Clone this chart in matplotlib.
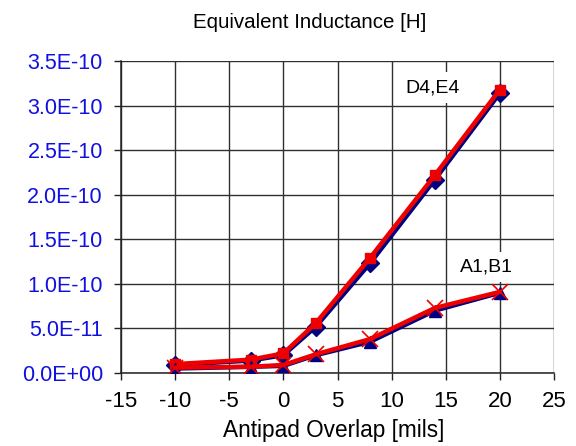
import matplotlib
matplotlib.use("Agg")
import matplotlib.pyplot as plt
from matplotlib.ticker import FixedLocator, FuncFormatter

plt.rcParams['font.family'] = ['Liberation Sans', 'DejaVu Sans']

x = [-10, -3, 0, 3, 8, 14, 20]
d4 = [9.0e-12, 1.4e-11, 2.0e-11, 5.2e-11, 1.23e-10, 2.17e-10, 3.14e-10]
e4 = [1.0e-11, 1.5e-11, 2.2e-11, 5.6e-11, 1.29e-10, 2.22e-10, 3.18e-10]
a1 = [5.0e-12, 7.0e-12, 8.0e-12, 2.0e-11, 3.5e-11, 7.0e-11, 9.0e-11]
b1 = [6.0e-12, 7.0e-12, 9.0e-12, 2.1e-11, 3.8e-11, 7.3e-11, 9.1e-11]

xticks = [-15, -10, -5, 0, 5, 10, 15, 20, 25]
yticks = [0, 5e-11, 1.0e-10, 1.5e-10, 2.0e-10, 2.5e-10, 3.0e-10, 3.5e-10]

title = "Equivalent Inductance [H]"
xlabel = "Antipad Overlap [mils]"
label_top = "D4,E4"
label_bot = "A1,B1"

W, H = 576, 446
fig = plt.figure(figsize=(W / 100, H / 100), dpi=100)
ax = fig.add_axes([121 / W, (H - 373) / H, (554 - 121) / W, (373 - 61) / H])

blue = '#000080'
red = '#ee0000'

ax.plot(x, d4, color=blue, lw=3.2, marker='D', ms=9, mfc=blue, mec=blue, zorder=3)
ax.plot(x, e4, color=red, lw=3.2, marker='s', ms=7, mfc=red, mec=red, zorder=4)
ax.plot(x, a1, color=blue, lw=3.2, marker='^', ms=9, mfc=blue, mec=blue, zorder=5)
ax.plot(x, b1, color=red, lw=3.2, marker='x', ms=12, mew=1.2, mec=red, zorder=6)

ax.set_xlim(-15, 25)
ax.set_ylim(0, 3.5e-10)
ax.xaxis.set_major_locator(FixedLocator(xticks))
ax.yaxis.set_major_locator(FixedLocator(yticks))
ax.yaxis.set_major_formatter(FuncFormatter(lambda v, p: f"{v:.1E}"))
ax.xaxis.set_major_formatter(FuncFormatter(lambda v, p: f"{v:g}"))

ax.grid(True, color='#303030', lw=1.0, zorder=0)
ax.set_axisbelow(True)
for s in ['top', 'right']:
    ax.spines[s].set_visible(False)
for s in ['left', 'bottom']:
    ax.spines[s].set_color('#222222')
    ax.spines[s].set_linewidth(1.1)

ax.tick_params(axis='both', direction='out', length=5, width=1, color='#222222', pad=8)
ax.tick_params(axis='y', labelcolor='#1010e0', labelsize=15.5)
ax.tick_params(axis='x', labelcolor='black', labelsize=16)

ax.text(13.8, 3.2e-10, label_top, fontsize=14, ha='center', va='center', zorder=2,
        bbox=dict(boxstyle='square,pad=0.35', fc='white', ec='none'))
ax.text(18.8, 1.19e-10, label_bot, fontsize=14, ha='center', va='center', zorder=2,
        bbox=dict(boxstyle='square,pad=0.35', fc='white', ec='none'))

fig.text(310 / W, 1 - 22 / H, title, fontsize=14.8, ha='center', va='center')
fig.text(334 / W, 1 - 430 / H, xlabel, fontsize=16.3, ha='center', va='center')

fig.savefig("out.png", dpi=100)
